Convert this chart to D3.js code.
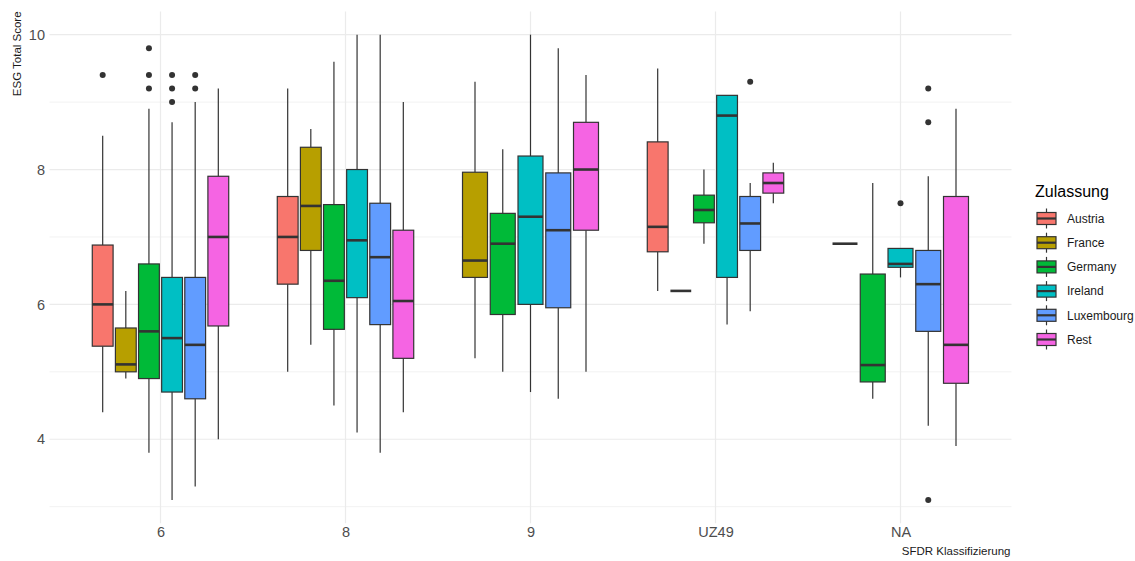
<!DOCTYPE html>
<html>
<head>
<meta charset="utf-8">
<script src="https://cdn.jsdelivr.net/npm/d3@7"></script>
<style>
  html, body { margin: 0; padding: 0; background: #fff; }
  svg { display: block; font-family: "Liberation Sans", Arial, sans-serif; }
</style>
</head>
<body>
<svg id="chart" width="1135" height="561"></svg>
<script>
// ---- data ----
const categories = ["6", "8", "9", "UZ49", "NA"];
const groups = ["Austria", "France", "Germany", "Ireland", "Luxembourg", "Rest"];
const colors = ["#F8766D", "#B79F00", "#00BA38", "#00BFC4", "#619CFF", "#F564E3"];
const yTicks = [4, 6, 8, 10];
const yMinorTicks = [3, 5, 7, 9];

const boxCategory = ["6","6","6","6","6","6", "8","8","8","8","8","8", "9","9","9","9","9", "UZ49","UZ49","UZ49","UZ49","UZ49","UZ49", "NA","NA","NA","NA","NA"];
const boxGroup = ["Austria","France","Germany","Ireland","Luxembourg","Rest",
  "Austria","France","Germany","Ireland","Luxembourg","Rest",
  "France","Germany","Ireland","Luxembourg","Rest",
  "Austria","France","Germany","Ireland","Luxembourg","Rest",
  "Austria","Germany","Ireland","Luxembourg","Rest"];
const whiskerLow = [4.4, 4.9, 3.8, 3.1, 3.3, 4.0,  5.0, 5.4, 4.5, 4.1, 3.8, 4.4,  5.2, 5.0, 4.7, 4.6, 5.0,  6.2, 6.2, 6.9, 5.7, 5.9, 7.5,  6.9, 4.6, 6.4, 4.2, 3.9];
const q1 =         [5.38, 5.0, 4.9, 4.7, 4.6, 5.68, 6.3, 6.8, 5.63, 6.1, 5.7, 5.2, 6.4, 5.85, 6.0, 5.95, 7.1, 6.78, 6.2, 7.21, 6.4, 6.8, 7.65, 6.9, 4.85, 6.55, 5.6, 4.83];
const median =     [6.0, 5.11, 5.6, 5.5, 5.4, 7.0,  7.0, 7.46, 6.35, 6.95, 6.7, 6.05, 6.65, 6.9, 7.3, 7.1, 8.0, 7.15, 6.2, 7.4, 8.8, 7.2, 7.8, 6.9, 5.1, 6.6, 6.3, 5.4];
const q3 =         [6.88, 5.65, 6.6, 6.4, 6.4, 7.9, 7.6, 8.33, 7.48, 8.0, 7.5, 7.1, 7.96, 7.35, 8.2, 7.95, 8.7, 8.41, 6.2, 7.62, 9.1, 7.6, 7.95, 6.9, 6.45, 6.83, 6.8, 7.6];
const whiskerHigh =[8.5, 6.2, 8.9, 8.7, 9.0, 9.2,  9.2, 8.6, 9.6, 10.0, 10.0, 9.0, 9.3, 8.3, 10.0, 9.8, 9.4, 9.5, 6.2, 8.0, 9.1, 7.8, 8.1, 6.9, 7.8, 6.83, 7.9, 8.9];
const outliers = [[9.4], [], [9.2, 9.4, 9.8], [9.0, 9.2, 9.4], [9.2, 9.4], [],
  [], [], [], [], [], [],
  [], [], [], [], [],
  [], [], [], [], [9.3], [],
  [], [], [7.5], [3.1, 8.7, 9.2], []];

// ---- layout ----
const svg = d3.select("#chart");
const panel = { left: 49.5, right: 1011.5, top: 11.4, bottom: 523.2 };
const stroke = "#333333";

const x = d3.scalePoint().domain(categories).range([panel.left, panel.right]).padding(0.6);
const y = d3.scaleLinear().domain([2.755, 10.345]).range([panel.bottom, panel.top]);
const color = d3.scaleOrdinal().domain(groups).range(colors);

// grid
const grid = svg.append("g");
grid.selectAll("line.minor").data(yMinorTicks).join("line")
  .attr("x1", panel.left).attr("x2", panel.right)
  .attr("y1", d => y(d)).attr("y2", d => y(d))
  .attr("stroke", "#F2F2F2").attr("stroke-width", 1);
grid.selectAll("line.major").data(yTicks).join("line")
  .attr("x1", panel.left).attr("x2", panel.right)
  .attr("y1", d => y(d)).attr("y2", d => y(d))
  .attr("stroke", "#EBEBEB").attr("stroke-width", 1.2);
grid.selectAll("line.vmajor").data(categories).join("line")
  .attr("x1", d => x(d)).attr("x2", d => x(d))
  .attr("y1", panel.top).attr("y2", panel.bottom)
  .attr("stroke", "#EBEBEB").attr("stroke-width", 1.2);

// axes (text only, theme_minimal)
const yAxis = svg.append("g").attr("transform", `translate(${panel.left},0)`)
  .call(d3.axisLeft(y).tickValues(yTicks).tickSize(0).tickPadding(4.5).tickFormat(d3.format("d")));
yAxis.select(".domain").remove();
yAxis.selectAll("text").attr("fill", "#4D4D4D").attr("font-size", 14.5)
  .attr("font-family", "Liberation Sans, Arial, sans-serif");

const xAxis = svg.append("g").attr("transform", `translate(0,${panel.bottom})`)
  .call(d3.axisBottom(x).tickSize(0).tickPadding(4));
xAxis.select(".domain").remove();
xAxis.selectAll("text").attr("fill", "#4D4D4D").attr("font-size", 14.5)
  .attr("font-family", "Liberation Sans, Arial, sans-serif");

// axis titles
svg.append("text")
  .attr("transform", `translate(20.5,${panel.top}) rotate(-90)`)
  .attr("text-anchor", "end")
  .attr("font-size", 11.5).attr("fill", "#1a1a1a")
  .text("ESG Total Score");
svg.append("text")
  .attr("x", panel.right - 1).attr("y", 555)
  .attr("text-anchor", "end")
  .attr("font-size", 11.5).attr("fill", "#1a1a1a")
  .text("SFDR Klassifizierung");

// boxes
const dodgeWidth = x.step() * 0.75;
const boxes = boxCategory.map((c, i) => ({
  c, g: boxGroup[i], lo: whiskerLow[i], q1: q1[i], med: median[i], q3: q3[i], hi: whiskerHigh[i], out: outliers[i]
}));
const inner = {};
categories.forEach(c => {
  const present = groups.filter(g => boxes.some(b => b.c === c && b.g === g));
  inner[c] = d3.scaleBand().domain(present)
    .range([x(c) - dodgeWidth / 2, x(c) + dodgeWidth / 2])
    .paddingInner(0.1).paddingOuter(0.05);
});

const bg = svg.append("g");
boxes.forEach(b => {
  const s = inner[b.c];
  const x0 = s(b.g), w = s.bandwidth(), xc = x0 + w / 2;
  const g = bg.append("g");
  // whiskers
  g.append("line").attr("x1", xc).attr("x2", xc).attr("y1", y(b.hi)).attr("y2", y(b.q3))
    .attr("stroke", stroke).attr("stroke-width", 1.2);
  g.append("line").attr("x1", xc).attr("x2", xc).attr("y1", y(b.q1)).attr("y2", y(b.lo))
    .attr("stroke", stroke).attr("stroke-width", 1.2);
  // box
  g.append("rect").attr("x", x0).attr("y", y(b.q3)).attr("width", w)
    .attr("height", Math.max(0, y(b.q1) - y(b.q3)))
    .attr("fill", color(b.g)).attr("stroke", stroke).attr("stroke-width", 1.2);
  // median
  g.append("line").attr("x1", x0).attr("x2", x0 + w).attr("y1", y(b.med)).attr("y2", y(b.med))
    .attr("stroke", stroke).attr("stroke-width", 2.6);
  // outliers
  g.selectAll("circle").data(b.out).join("circle")
    .attr("cx", xc).attr("cy", d => y(d)).attr("r", 3).attr("fill", stroke);
});

// legend
const leg = svg.append("g").attr("transform", "translate(1035,0)");
leg.append("text").attr("x", 0).attr("y", 197).attr("font-size", 16).attr("fill", "#000")
  .text("Zulassung");
const keyY = d3.scalePoint().domain(groups).range([218.5, 339.5]);
groups.forEach(g => {
  const cy = keyY(g);
  const k = leg.append("g");
  k.append("line").attr("x1", 11.5).attr("x2", 11.5).attr("y1", cy - 10).attr("y2", cy + 10)
    .attr("stroke", stroke).attr("stroke-width", 1.2);
  k.append("rect").attr("x", 2).attr("y", cy - 6).attr("width", 19).attr("height", 12)
    .attr("fill", color(g)).attr("stroke", stroke).attr("stroke-width", 1.2);
  k.append("line").attr("x1", 2).attr("x2", 21).attr("y1", cy).attr("y2", cy)
    .attr("stroke", stroke).attr("stroke-width", 2.2);
  k.append("text").attr("x", 32).attr("y", cy).attr("dy", "0.35em")
    .attr("font-size", 12).attr("fill", "#1a1a1a").text(g);
});
</script>
</body>
</html>
